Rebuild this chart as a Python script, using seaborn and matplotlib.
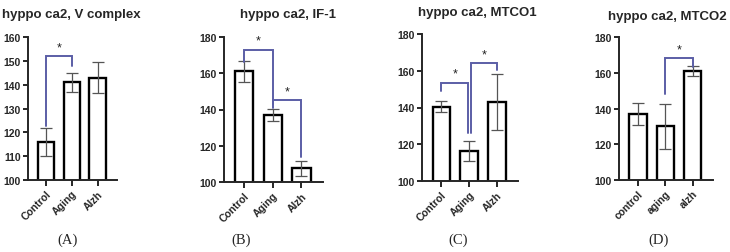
import numpy as np
import pandas as pd
import matplotlib
matplotlib.use("Agg")
import matplotlib.pyplot as plt
import seaborn as sns

# ---------------- DATA ----------------
titles = ["hyppo ca2, V complex", "hyppo ca2, IF-1", "hyppo ca2, MTCO1", "hyppo ca2, MTCO2"]
panel_tags = ["(A)", "(B)", "(C)", "(D)"]
groups_upper = ["Control", "Aging", "Alzh"]
groups_lower = ["control", "aging", "alzh"]

means_a = [116, 141, 143]
err_a = [6, 4, 6.5]
means_b = [161, 137, 107.5]
err_b = [6, 3.5, 4]
means_c = [140.5, 116.5, 143]
err_c = [3.2, 5.5, 15.5]
means_d = [137, 130, 161]
err_d = [6, 12.5, 3]

# brackets: (from, to, left end, right end, top)
brackets_a = [(0, 1, 122.5, 148, 152)]
brackets_b = [(0, 1, 166, 143, 173), (1, 2, 141, 114, 145)]
brackets_c = [(0, 1, 149, 126, 153.5), (1, 2, 126, 160.5, 164)]
brackets_d = [(1, 2, 148, 163, 168)]

yticks_a = [100, 110, 120, 130, 140, 150, 160]
yticks_bcd = [100, 120, 140, 160, 180]

# ---------------- LAYOUT ----------------
W, H = 730, 253
sns.set_style("ticks")
plt.rcParams['font.family'] = ['Liberation Sans', 'DejaVu Sans']

fig = plt.figure(figsize=(W / 100, H / 100), dpi=100)

# axes boxes in pixels: left, right, top, bottom
boxes = [(28, 117, 38, 181), (224, 323, 38, 183), (422, 518, 35, 182), (619, 713, 38, 181)]
title_pos = [(71, 15), (288, 15), (477, 13), (667, 17)]
tag_x = [68, 241, 458, 659]

panels = [
    (means_a, err_a, groups_upper, brackets_a, yticks_a),
    (means_b, err_b, groups_upper, brackets_b, yticks_bcd),
    (means_c, err_c, groups_upper, brackets_c, yticks_bcd),
    (means_d, err_d, groups_lower, brackets_d, yticks_bcd),
]

bracket_col = "#5b5ea6"

for k, (means, errs, labels, brackets, yticks) in enumerate(panels):
    l, r, t, b = boxes[k]
    ax = fig.add_axes([l / W, 1 - b / H, (r - l) / W, (b - t) / H])
    df = pd.DataFrame({"group": labels, "value": means})
    sns.barplot(data=df, x="group", y="value", ax=ax, color="white",
                edgecolor="black", linewidth=1.7, width=0.64, errorbar=None)
    ax.errorbar(range(3), means, yerr=errs, fmt="none", ecolor="#555555",
                elinewidth=0.9, capsize=4, capthick=0.9, zorder=5)

    ax.set_ylim(yticks[0], yticks[-1])
    ax.set_xlim(-0.7, 2.75)
    ax.set_yticks(yticks)
    ax.set_xlabel("")
    ax.set_ylabel("")
    sns.despine(ax=ax)
    for s in ["left", "bottom"]:
        ax.spines[s].set_linewidth(1.4)
    ax.tick_params(axis="y", width=1.4, length=3.5, labelsize=7.5, pad=1.5)
    ax.tick_params(axis="x", width=1.4, length=4.5, labelsize=7.5, pad=1.5)
    for lab in ax.get_yticklabels():
        lab.set_fontweight("bold")
    ax.set_xticks(range(3))
    ax.set_xticklabels(labels, rotation=45, ha="right", rotation_mode="anchor",
                       fontweight="bold", fontsize=7.5)

    span = yticks[-1] - yticks[0]
    for (i, j, y1, y2, top) in brackets:
        xi = i + (0.05 if (k == 2 and i == 1) else 0)
        xj = j - (0.05 if (k == 2 and j == 1) else 0)
        ax.plot([xi, xi, xj, xj], [y1, top, top, y2], color=bracket_col,
                lw=1.4, solid_joinstyle="miter", clip_on=False, zorder=6)
        ax.text((xi + xj) / 2, top + span * 0.02, "*", ha="center", va="bottom",
                fontsize=9, color="#222222")

    tx, ty = title_pos[k]
    fig.text(tx / W, 1 - ty / H, titles[k], ha="center", va="center",
             fontsize=9.5, fontweight="bold")
    fig.text(tag_x[k] / W, 1 - 240 / H, panel_tags[k], ha="center", va="center",
             fontsize=10.5, family="Liberation Serif")

fig.savefig("out.png", dpi=100)
